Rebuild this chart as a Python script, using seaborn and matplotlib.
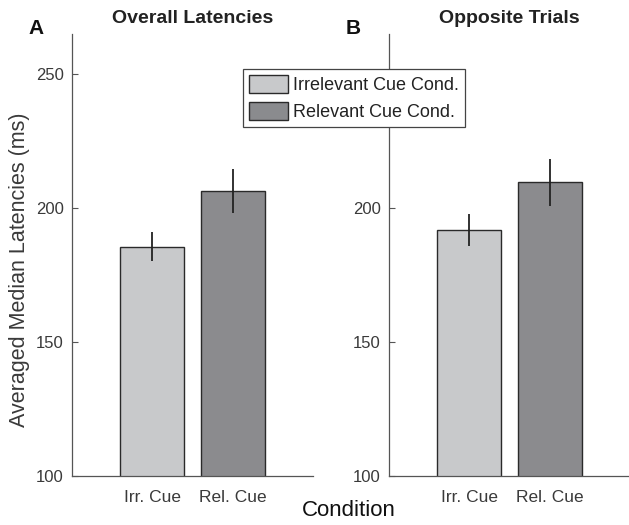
import matplotlib
matplotlib.use("Agg")
import matplotlib.pyplot as plt
import seaborn as sns
import pandas as pd
from matplotlib.patches import Patch

# Condition labels and bar colours
conditions = ["Irr. Cue", "Rel. Cue"]
legend_labels = ["Irrelevant Cue Cond.", "Relevant Cue Cond."]
bar_colors = ["#c8c9cb", "#8a8b8e"]

# Averaged median latencies (ms) and their error half-widths
overall_means = [185.6, 206.4]
overall_err = [5.3, 8.2]
opposite_means = [191.8, 209.6]
opposite_err = [5.9, 8.9]

panel_titles = ["Overall Latencies", "Opposite Trials"]
panel_letters = ["A", "B"]
yticks = [100, 150, 200, 250]
# the right panel's 250 label sits under the legend box
ytick_labels_a = ["100", "150", "200", "250"]
ytick_labels_b = ["100", "150", "200", ""]

sns.set_theme(style="white")
plt.rcParams["font.family"] = ["Liberation Sans", "DejaVu Sans"]

fig = plt.figure(figsize=(6.29, 5.25), dpi=100)
ax_a = fig.add_axes([72 / 629, 49 / 525, 241 / 629, 442 / 525])
ax_b = fig.add_axes([389 / 629, 49 / 525, 241 / 629, 442 / 525])

text_gray = "#3a3a3a"
spine_gray = "#555555"

for ax, means, errs, title, ylabels in zip(
    [ax_a, ax_b],
    [overall_means, opposite_means],
    [overall_err, opposite_err],
    panel_titles,
    [ytick_labels_a, ytick_labels_b],
):
    df = pd.DataFrame({"condition": conditions, "latency": means})
    sns.barplot(
        data=df, x="condition", y="latency", hue="condition",
        palette=bar_colors, width=0.8, errorbar=None, legend=False,
        edgecolor="#2a2a2a", linewidth=1.0, ax=ax,
    )
    ax.errorbar(range(len(means)), means, yerr=errs, fmt="none",
                ecolor="#222222", elinewidth=1.3, capsize=0, zorder=5)
    ax.set_xlim(-1, 2)
    ax.set_ylim(100, 265)
    ax.set_yticks(yticks)
    ax.set_yticklabels(ylabels)
    ax.set_xlabel("")
    ax.set_ylabel("")
    ax.tick_params(axis="y", direction="in", length=4, width=0.8,
                   color=spine_gray, labelsize=12, labelcolor=text_gray, pad=6, left=True)
    ax.tick_params(axis="x", length=0, labelsize=12.5, labelcolor=text_gray, pad=10)
    for side in ["top", "right"]:
        ax.spines[side].set_visible(False)
    for side in ["left", "bottom"]:
        ax.spines[side].set_color(spine_gray)
        ax.spines[side].set_linewidth(0.9)
    ax.set_title(title, fontsize=14, fontweight="bold", color="#222222", pad=8)
    ax.patch.set_visible(False)

fig.text(28 / 629, 1 - 29 / 525, panel_letters[0], fontsize=15, fontweight="bold",
         ha="left", va="center", color="#111111")
fig.text(346 / 629, 1 - 29 / 525, panel_letters[1], fontsize=15, fontweight="bold",
         ha="left", va="center", color="#111111")

fig.text(20 / 629, 1 - 270 / 525, "Averaged Median Latencies (ms)",
         rotation=90, fontsize=15.5, ha="center", va="center", color=text_gray)
fig.text(349 / 629, 1 - 511 / 525, "Condition", fontsize=16,
         ha="center", va="center", color="#111111")

handles = [Patch(facecolor=c, edgecolor="#2a2a2a", linewidth=1.0) for c in bar_colors]
leg = fig.legend(
    handles, legend_labels, loc="upper left",
    bbox_to_anchor=(243 / 629, 1 - 69 / 525), bbox_transform=fig.transFigure,
    fontsize=13, frameon=True, fancybox=False, borderaxespad=0,
    handlelength=2.15, handleheight=1.1, handletextpad=0.25,
    labelspacing=0.45, borderpad=0.35, framealpha=1,
)
leg.get_frame().set_edgecolor("#444444")
leg.get_frame().set_linewidth(0.9)
for t in leg.get_texts():
    t.set_color("#222222")

fig.savefig("out.png", dpi=100)
